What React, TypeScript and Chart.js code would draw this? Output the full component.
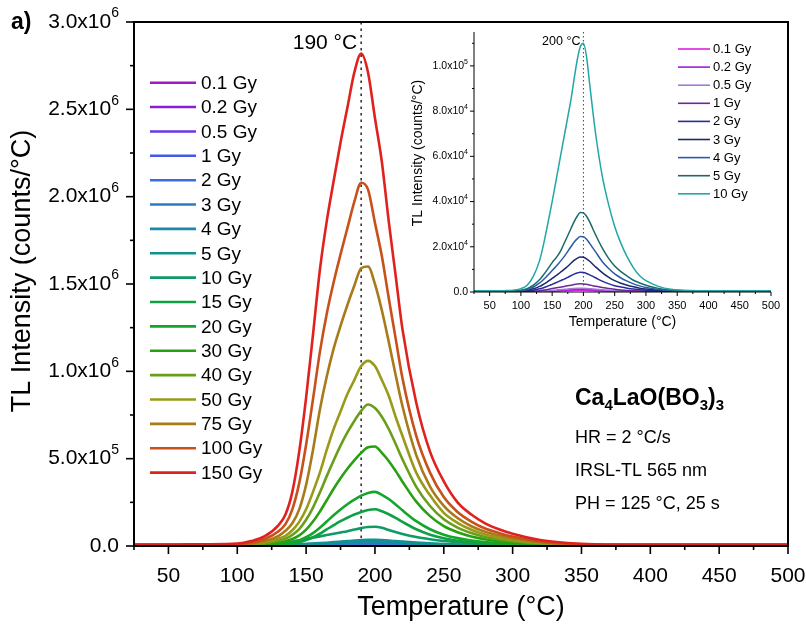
import { useEffect, useRef } from "react";
import { Chart, registerables } from "chart.js";

Chart.register(...registerables);

// Temperature grid (°C)
const TEMPS = [25, 50, 75, 100, 110, 120, 130, 135, 140, 145, 150, 155, 160, 165, 170, 175, 180, 185, 190, 195, 200, 205, 210, 215, 220, 230, 240, 250, 260, 270, 280, 290, 300, 320, 340, 360, 400, 450, 500];

// TL intensity values, in units of 10^4 counts/°C
const UNIT = 1e4;
const TL_0_1 = [0.0015, 0.0015, 0.002, 0.0035, 0.0055, 0.009, 0.014, 0.018, 0.023, 0.028, 0.033, 0.039, 0.045, 0.051, 0.057, 0.063, 0.068, 0.074, 0.078, 0.08, 0.079, 0.075, 0.069, 0.063, 0.057, 0.045, 0.035, 0.027, 0.021, 0.016, 0.012, 0.009, 0.007, 0.004, 0.003, 0.002, 0.0015, 0.0015, 0.0015];
const TL_0_2 = [0.002, 0.002, 0.003, 0.005, 0.008, 0.013, 0.021, 0.027, 0.034, 0.042, 0.05, 0.058, 0.067, 0.076, 0.085, 0.094, 0.102, 0.111, 0.117, 0.12, 0.118, 0.113, 0.104, 0.095, 0.085, 0.067, 0.052, 0.04, 0.031, 0.024, 0.018, 0.014, 0.011, 0.006, 0.004, 0.003, 0.002, 0.002, 0.002];
const TL_0_5 = [0.003, 0.003, 0.004, 0.007, 0.011, 0.018, 0.03, 0.038, 0.048, 0.058, 0.07, 0.082, 0.095, 0.107, 0.12, 0.132, 0.145, 0.158, 0.166, 0.17, 0.168, 0.16, 0.148, 0.134, 0.12, 0.095, 0.074, 0.057, 0.044, 0.034, 0.026, 0.02, 0.015, 0.009, 0.005, 0.004, 0.003, 0.003, 0.003];
const TL_1 = [0.005, 0.005, 0.006, 0.012, 0.02, 0.035, 0.06, 0.08, 0.1, 0.125, 0.15, 0.175, 0.2, 0.225, 0.25, 0.275, 0.3, 0.33, 0.35, 0.36, 0.355, 0.34, 0.31, 0.28, 0.25, 0.2, 0.155, 0.12, 0.09, 0.07, 0.055, 0.042, 0.032, 0.018, 0.01, 0.007, 0.005, 0.005, 0.005];
const TL_2 = [0.01, 0.01, 0.012, 0.025, 0.04, 0.08, 0.14, 0.18, 0.23, 0.28, 0.34, 0.4, 0.46, 0.52, 0.58, 0.65, 0.72, 0.79, 0.84, 0.87, 0.86, 0.82, 0.76, 0.69, 0.62, 0.48, 0.37, 0.28, 0.22, 0.17, 0.13, 0.1, 0.075, 0.04, 0.025, 0.015, 0.01, 0.01, 0.01];
const TL_3 = [0.015, 0.015, 0.02, 0.04, 0.07, 0.14, 0.25, 0.32, 0.4, 0.5, 0.6, 0.7, 0.8, 0.91, 1.02, 1.14, 1.27, 1.4, 1.49, 1.55, 1.54, 1.47, 1.36, 1.23, 1.1, 0.86, 0.66, 0.5, 0.39, 0.3, 0.23, 0.17, 0.13, 0.07, 0.04, 0.025, 0.015, 0.015, 0.015];
const TL_4 = [0.02, 0.02, 0.03, 0.06, 0.11, 0.22, 0.4, 0.52, 0.65, 0.8, 0.95, 1.1, 1.25, 1.42, 1.6, 1.8, 2.0, 2.2, 2.35, 2.45, 2.44, 2.33, 2.15, 1.95, 1.75, 1.35, 1.05, 0.8, 0.62, 0.48, 0.36, 0.27, 0.2, 0.11, 0.06, 0.04, 0.02, 0.02, 0.02];
const TL_5 = [0.03, 0.03, 0.04, 0.08, 0.15, 0.3, 0.55, 0.72, 0.9, 1.1, 1.3, 1.47, 1.65, 1.9, 2.2, 2.5, 2.8, 3.1, 3.35, 3.52, 3.5, 3.35, 3.1, 2.8, 2.5, 1.95, 1.5, 1.15, 0.9, 0.7, 0.52, 0.4, 0.3, 0.16, 0.08, 0.05, 0.03, 0.03, 0.03];
const TL_10 = [0.05, 0.05, 0.06, 0.15, 0.3, 0.7, 1.4, 1.95, 2.6, 3.3, 4.0, 4.75, 5.5, 6.25, 7.0, 7.75, 8.5, 9.4, 10.25, 10.85, 11.0, 10.4, 9.2, 8.0, 6.9, 5.15, 3.9, 2.9, 2.15, 1.55, 1.07, 0.72, 0.5, 0.25, 0.12, 0.08, 0.05, 0.05, 0.05];
const TL_15 = [0.15, 0.15, 0.15, 0.15, 0.2, 0.35, 0.7, 1.0, 1.45, 2.2, 3.4, 5.0, 7.1, 9.5, 11.9, 14.2, 16.2, 18.0, 19.5, 20.6, 21, 19.9, 18.2, 16.1, 13.8, 9.6, 6.5, 4.4, 3.0, 2.1, 1.5, 1.1, 0.8, 0.4, 0.2, 0.15, 0.15, 0.15, 0.15];
const TL_20 = [0.2, 0.2, 0.2, 0.2, 0.3, 0.5, 1.0, 1.4, 2.1, 3.2, 5.0, 7.4, 10.5, 14.0, 17.6, 20.9, 23.9, 26.5, 28.8, 30.4, 31, 29.3, 26.9, 23.8, 20.4, 14.2, 9.6, 6.5, 4.5, 3.1, 2.2, 1.6, 1.15, 0.6, 0.3, 0.2, 0.2, 0.2, 0.2];
const TL_30 = [0.3, 0.3, 0.3, 0.3, 0.5, 1.0, 1.9, 2.7, 4.0, 6.1, 9.4, 14, 19.7, 26.2, 32.8, 38.8, 44.2, 49, 53.3, 56.5, 57, 53.3, 48.7, 43, 36.8, 25.4, 17.1, 11.4, 7.9, 5.5, 3.9, 2.8, 2.0, 1.1, 0.5, 0.35, 0.3, 0.3, 0.3];
const TL_40 = [0.4, 0.4, 0.4, 0.4, 0.8, 1.5, 3.0, 4.2, 6.4, 9.7, 15, 22, 30.6, 40, 49, 57.5, 65, 71.6, 77.4, 81, 79, 74, 67, 58.5, 49.6, 33.9, 22.9, 15.3, 10.5, 7.4, 5.2, 3.8, 2.8, 1.4, 0.7, 0.45, 0.4, 0.4, 0.4];
const TL_50 = [0.5, 0.5, 0.6, 0.6, 1.1, 2.1, 4.2, 5.8, 9, 13.8, 21, 31, 42, 55, 67, 77, 87, 95, 103, 106, 103, 95, 86, 74, 63, 42, 29, 19, 13.3, 9.3, 6.6, 4.8, 3.5, 1.8, 0.9, 0.6, 0.5, 0.5, 0.5];
const TL_75 = [0.6, 0.6, 0.7, 0.8, 1.4, 2.8, 5.8, 8.7, 13, 21, 35, 55, 78, 97, 113, 126, 138, 149, 159, 160, 150, 135, 117, 98, 80, 52, 34, 23, 16, 11.3, 8.2, 6.1, 4.4, 2.2, 1.1, 0.7, 0.6, 0.6, 0.6];
const TL_100 = [0.7, 0.7, 0.8, 1.0, 2.0, 4.0, 8.5, 12.5, 21, 36, 58, 84, 111, 133, 151, 167, 182, 197, 208, 204, 185, 166, 142, 119, 96, 63, 42, 28, 19.5, 14, 10, 7.5, 5.4, 2.6, 1.3, 0.9, 0.7, 0.7, 0.7];
const TL_150 = [0.8, 0.8, 1.0, 1.4, 2.8, 5.6, 12, 18, 31, 54, 85, 121, 158, 186, 209, 231, 251, 271, 282, 271, 245, 220, 186, 155, 124, 82, 54, 37, 25, 18, 13, 9.6, 7, 3.4, 1.7, 1.0, 0.8, 0.8, 0.8];

const DOSES = ["0.1 Gy", "0.2 Gy", "0.5 Gy", "1 Gy", "2 Gy", "3 Gy", "4 Gy", "5 Gy", "10 Gy", "15 Gy", "20 Gy", "30 Gy", "40 Gy", "50 Gy", "75 Gy", "100 Gy", "150 Gy"];
const SERIES = [TL_0_1, TL_0_2, TL_0_5, TL_1, TL_2, TL_3, TL_4, TL_5, TL_10, TL_15, TL_20, TL_30, TL_40, TL_50, TL_75, TL_100, TL_150];
const MAIN_COLORS = ["#9d1cc7", "#8a1fd2", "#6b36e6", "#4558ea", "#3a6ddf", "#2b7bc4", "#1a8aa8", "#12928f", "#0f9a66", "#10a044", "#14a62a", "#27a012", "#6a9e1a", "#9a9a1a", "#a87a1a", "#c8501a", "#e0221f"];

const INSET_COUNT = 9; // 0.1 Gy ... 10 Gy
const INSET_COLORS = ["#e01ee0", "#a01ed8", "#a37ad6", "#6a2a9a", "#2a2a9a", "#1a2a6a", "#2a5aaa", "#1a6a6a", "#22a6a6"];

const MAIN_X_TICKS = [50, 100, 150, 200, 250, 300, 350, 400, 450, 500];
const MAIN_Y_TICKS = [0, 5e5, 1e6, 1.5e6, 2e6, 2.5e6, 3e6];
const INSET_X_TICKS = [50, 100, 150, 200, 250, 300, 350, 400, 450, 500];
const INSET_Y_TICKS = [0, 2e4, 4e4, 6e4, 8e4, 1e5];

const MAIN_PEAK_T = 190;
const INSET_PEAK_T = 200;

const FONT = '"Liberation Sans", Arial, Helvetica, sans-serif';

function sciLabel(ctx: CanvasRenderingContext2D, v: number, x: number, y: number, size: number, supSize: number) {
  ctx.textBaseline = "middle";
  if (v === 0) {
    ctx.font = `${size}px ${FONT}`;
    ctx.textAlign = "right";
    ctx.fillText("0.0", x, y);
    return;
  }
  const e = Math.floor(Math.log10(v) + 1e-9);
  const m = (v / Math.pow(10, e)).toFixed(1);
  ctx.font = `${supSize}px ${FONT}`;
  const sw = ctx.measureText(String(e)).width;
  ctx.textAlign = "left";
  ctx.fillText(String(e), x - sw, y - size * 0.4);
  ctx.font = `${size}px ${FONT}`;
  ctx.textAlign = "right";
  ctx.fillText(`${m}x10`, x - sw, y);
}

const mainPlugin = {
  id: "mainDeco",
  beforeDatasetsDraw(chart: any) {
    const ctx = chart.ctx as CanvasRenderingContext2D;
    const { top, bottom } = chart.chartArea;
    const px = chart.scales.x.getPixelForValue(MAIN_PEAK_T);
    ctx.save();
    ctx.strokeStyle = "#333";
    ctx.lineWidth = 1.6;
    ctx.setLineDash([2.5, 4]);
    ctx.beginPath();
    ctx.moveTo(px, top);
    ctx.lineTo(px, bottom);
    ctx.stroke();
    ctx.restore();
  },
  afterDraw(chart: any) {
    const ctx = chart.ctx as CanvasRenderingContext2D;
    const { left, right, top, bottom } = chart.chartArea;
    const xs = chart.scales.x;
    const ys = chart.scales.y;
    ctx.save();
    ctx.strokeStyle = "#000";
    ctx.fillStyle = "#000";
    ctx.lineWidth = 2;
    ctx.strokeRect(left, top, right - left, bottom - top);
    // x ticks
    ctx.lineWidth = 1.6;
    for (let v = 25; v <= 500; v += 25) {
      const p = xs.getPixelForValue(v);
      const len = v % 50 === 0 ? 8 : 4;
      ctx.beginPath();
      ctx.moveTo(p, bottom);
      ctx.lineTo(p, bottom + len);
      ctx.stroke();
    }
    for (let v = 0; v <= 3e6; v += 2.5e5) {
      const p = ys.getPixelForValue(v);
      const len = v % 5e5 === 0 ? 8 : 4;
      ctx.beginPath();
      ctx.moveTo(left, p);
      ctx.lineTo(left - len, p);
      ctx.stroke();
    }
    ctx.font = `21px ${FONT}`;
    ctx.textAlign = "center";
    ctx.textBaseline = "middle";
    MAIN_X_TICKS.forEach((v) => ctx.fillText(String(v), xs.getPixelForValue(v), bottom + 30));
    MAIN_Y_TICKS.forEach((v) => sciLabel(ctx, v, left - 15, ys.getPixelForValue(v), 21, 14));
    // axis titles
    ctx.font = `27px ${FONT}`;
    ctx.textAlign = "center";
    ctx.fillText("Temperature (\u00B0C)", (left + right) / 2, 608);
    ctx.save();
    ctx.translate(23, 271);
    ctx.rotate(-Math.PI / 2);
    ctx.fillText("TL Intensity (counts/\u00B0C)", 0, 0);
    ctx.restore();
    // panel label
    ctx.font = `bold 23px ${FONT}`;
    ctx.textAlign = "left";
    ctx.fillText("a)", 11, 23);
    // peak annotation
    ctx.font = `21px ${FONT}`;
    ctx.textAlign = "right";
    ctx.fillText("190 \u00B0C", xs.getPixelForValue(MAIN_PEAK_T) - 4, 43);
    // legend
    chart.data.datasets.forEach((ds: any, i: number) => {
      const y = 82.7 + i * 24.37;
      ctx.strokeStyle = ds.borderColor;
      ctx.lineWidth = 2.6;
      ctx.beginPath();
      ctx.moveTo(150, y);
      ctx.lineTo(196, y);
      ctx.stroke();
      ctx.fillStyle = "#000";
      ctx.font = `19px ${FONT}`;
      ctx.textAlign = "left";
      ctx.fillText(ds.label, 201, y + 1);
    });
    // formula block
    let x = 575;
    const fy = 399;
    const parts: [string, boolean][] = [["Ca", false], ["4", true], ["LaO(BO", false], ["3", true], [")", false], ["3", true]];
    ctx.textAlign = "left";
    parts.forEach(([t, sub]) => {
      ctx.font = sub ? `bold 15px ${FONT}` : `bold 23px ${FONT}`;
      ctx.fillText(t, x, sub ? fy + 7 : fy);
      x += ctx.measureText(t).width;
    });
    ctx.font = `18px ${FONT}`;
    ctx.fillText("HR = 2 \u00B0C/s", 575, 438);
    ctx.fillText("IRSL-TL 565 nm", 575, 471);
    ctx.fillText("PH = 125 \u00B0C, 25 s", 575, 504);
    ctx.restore();
  },
};

const insetPlugin = {
  id: "insetDeco",
  beforeDatasetsDraw(chart: any) {
    const ctx = chart.ctx as CanvasRenderingContext2D;
    const { top, bottom } = chart.chartArea;
    const px = chart.scales.x.getPixelForValue(INSET_PEAK_T);
    ctx.save();
    ctx.strokeStyle = "#444";
    ctx.lineWidth = 1;
    ctx.setLineDash([1.5, 2.5]);
    ctx.beginPath();
    ctx.moveTo(px, top);
    ctx.lineTo(px, bottom);
    ctx.stroke();
    ctx.restore();
  },
  afterDraw(chart: any) {
    const ctx = chart.ctx as CanvasRenderingContext2D;
    const { left, right, top, bottom } = chart.chartArea;
    const xs = chart.scales.x;
    const ys = chart.scales.y;
    ctx.save();
    ctx.strokeStyle = "#000";
    ctx.fillStyle = "#000";
    ctx.lineWidth = 1;
    ctx.beginPath();
    ctx.moveTo(left, top);
    ctx.lineTo(left, bottom);
    ctx.lineTo(right, bottom);
    ctx.stroke();
    for (let v = 25; v <= 500; v += 25) {
      const p = xs.getPixelForValue(v);
      const len = v % 50 === 0 ? 4 : 2;
      ctx.beginPath();
      ctx.moveTo(p, bottom);
      ctx.lineTo(p, bottom + len);
      ctx.stroke();
    }
    for (let v = 0; v <= 1.1e5; v += 1e4) {
      const p = ys.getPixelForValue(v);
      const len = v % 2e4 === 0 ? 4 : 2;
      ctx.beginPath();
      ctx.moveTo(left, p);
      ctx.lineTo(left - len, p);
      ctx.stroke();
    }
    ctx.font = `11px ${FONT}`;
    ctx.textAlign = "center";
    ctx.textBaseline = "middle";
    INSET_X_TICKS.forEach((v) => ctx.fillText(String(v), xs.getPixelForValue(v), bottom + 14));
    INSET_Y_TICKS.forEach((v) => sciLabel(ctx, v, left - 6, ys.getPixelForValue(v), 10.5, 7));
    ctx.font = `14px ${FONT}`;
    ctx.textAlign = "center";
    ctx.fillText("Temperature (\u00B0C)", (left + right) / 2, 322);
    ctx.save();
    ctx.translate(418, 153);
    ctx.rotate(-Math.PI / 2);
    ctx.fillText("TL Intensity (counts/\u00B0C)", 0, 0);
    ctx.restore();
    ctx.font = `12.5px ${FONT}`;
    ctx.textAlign = "right";
    ctx.fillText("200 \u00B0C", xs.getPixelForValue(INSET_PEAK_T) - 3, 42);
    chart.data.datasets.forEach((ds: any, i: number) => {
      const y = 49 + i * 18.1;
      ctx.strokeStyle = ds.borderColor;
      ctx.lineWidth = 1.6;
      ctx.beginPath();
      ctx.moveTo(678, y);
      ctx.lineTo(710, y);
      ctx.stroke();
      ctx.fillStyle = "#000";
      ctx.font = `13px ${FONT}`;
      ctx.textAlign = "left";
      ctx.fillText(ds.label, 713, y + 0.5);
    });
    ctx.restore();
  },
};

function buildDatasets(count: number, colors: string[], width: number) {
  return SERIES.slice(0, count).map((s, i) => ({
    label: DOSES[i],
    data: TEMPS.map((t, k) => ({ x: t, y: s[k] * UNIT })),
    borderColor: colors[i],
    backgroundColor: colors[i],
    borderWidth: width,
    pointRadius: 0,
    fill: false,
    cubicInterpolationMode: "monotone" as const,
    order: count - i,
  }));
}

export default function App() {
  const mainRef = useRef<HTMLCanvasElement | null>(null);
  const insetRef = useRef<HTMLCanvasElement | null>(null);

  useEffect(() => {
    const main = new Chart(mainRef.current as HTMLCanvasElement, {
      type: "line",
      data: { datasets: buildDatasets(SERIES.length, MAIN_COLORS, 2.6) as any },
      options: {
        responsive: false,
        animation: false,
        devicePixelRatio: 1,
        events: [],
        layout: { padding: { left: 134, right: 18, top: 22, bottom: 79 } },
        scales: {
          x: { type: "linear", min: 25, max: 500, display: false },
          y: { type: "linear", min: 0, max: 3e6, display: false },
        },
        plugins: { legend: { display: false }, tooltip: { enabled: false } },
      },
      plugins: [mainPlugin],
    });
    const inset = new Chart(insetRef.current as HTMLCanvasElement, {
      type: "line",
      data: { datasets: buildDatasets(INSET_COUNT, INSET_COLORS, 1.5) as any },
      options: {
        responsive: false,
        animation: false,
        devicePixelRatio: 1,
        events: [],
        layout: { padding: { left: 474, right: 35, top: 32, bottom: 333 } },
        scales: {
          x: { type: "linear", min: 25, max: 500, display: false },
          y: { type: "linear", min: 0, max: 1.15e5, display: false },
        },
        plugins: { legend: { display: false }, tooltip: { enabled: false } },
      },
      plugins: [insetPlugin],
    });
    return () => {
      main.destroy();
      inset.destroy();
    };
  }, []);

  return (
    <div style={{ position: "fixed", left: 0, top: 0, width: 806, height: 625, background: "#fff" }}>
      <canvas ref={mainRef} width={806} height={625} style={{ position: "absolute", left: 0, top: 0, width: 806, height: 625 }} />
      <canvas ref={insetRef} width={806} height={625} style={{ position: "absolute", left: 0, top: 0, width: 806, height: 625, pointerEvents: "none" }} />
    </div>
  );
}
